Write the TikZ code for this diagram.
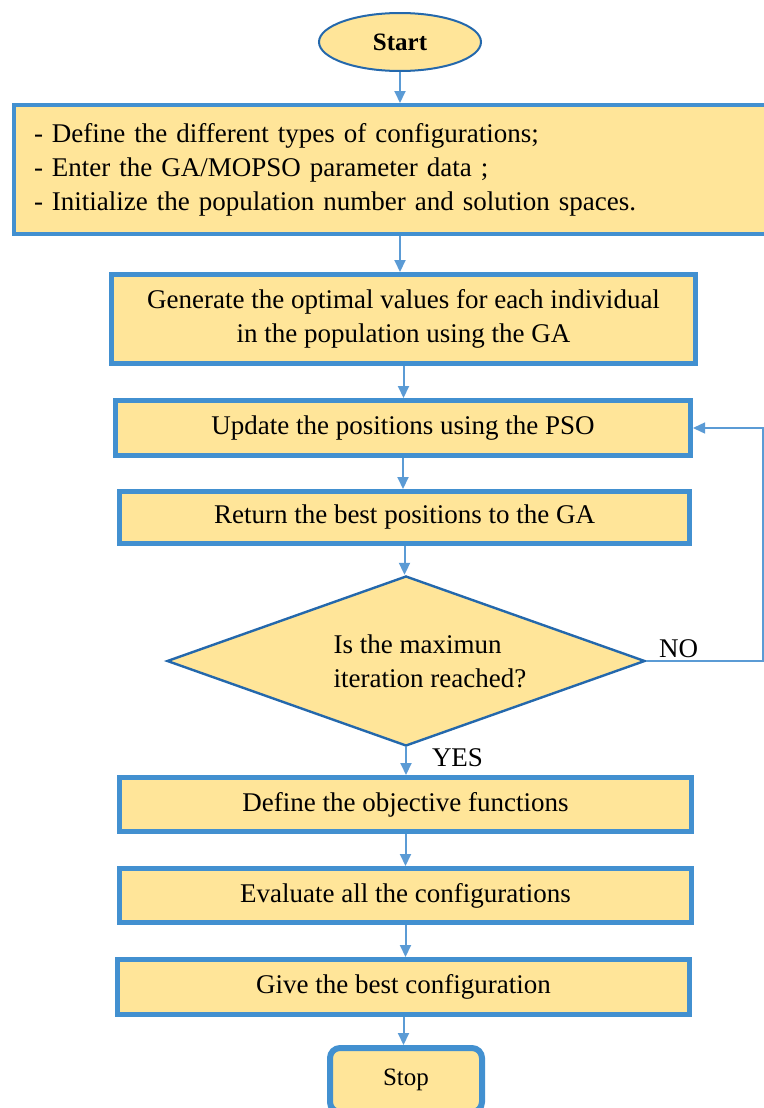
\documentclass[tikz,border=0pt]{standalone}
\usepackage{fontspec}
\setmainfont{Liberation Serif}
\usetikzlibrary{shapes.geometric,arrows.meta}

\definecolor{boxfill}{RGB}{255,229,153}
\definecolor{boxedge}{RGB}{66,144,208}
\definecolor{darkedge}{RGB}{36,104,172}
\definecolor{flowblue}{RGB}{91,155,213}

\begin{document}
\begin{tikzpicture}[x=0.5pt,y=-0.5pt,
  font=\fontsize{13.5}{17}\selectfont,
  procbox/.style={draw=boxedge, line width=2.5pt, fill=boxfill, inner sep=0pt,
    minimum width=286pt, minimum height=27pt, align=center},
  termnode/.style={draw=darkedge, line width=1pt, fill=boxfill, ellipse, inner sep=0pt,
    minimum width=81pt, minimum height=29pt, font=\fontsize{12.5}{14}\selectfont\bfseries},
  stopnode/.style={draw=boxedge, line width=3pt, fill=boxfill, rounded corners=5pt,
    inner sep=0pt, minimum width=76pt, minimum height=32pt, font=\fontsize{12.5}{14}\selectfont},
  decision/.style={draw=darkedge, line width=1.2pt, fill=boxfill, diamond, inner sep=0pt,
    minimum width=239pt, minimum height=85pt},
  flow/.style={draw=flowblue, line width=1pt, -{Triangle[length=6pt,width=5.5pt]}},
  loopline/.style={draw=flowblue, line width=0.7pt, -{Triangle[length=6pt,width=5.5pt]}}]
\useasboundingbox (0,0) rectangle (764,1108);

% nodes
\node[termnode] (start) at (400,42) {Start};
\node[procbox, line width=2pt, minimum width=379pt, minimum height=64.5pt,
  text width=359pt, align=left] (init) at (393,169.5)
  {- Define the different types of configurations;\\
   - Enter the GA/MOPSO parameter data ;\\
   - Initialize the population number and solution spaces.};
\node[procbox, minimum width=292pt, minimum height=44.5pt] (gen) at (403.5,319)
  {Generate the optimal values for each individual\\in the population using the GA};
\node[procbox, minimum width=287.5pt, minimum height=27.5pt] (upd) at (403,428)
  {Update the positions using the PSO};
\node[procbox, minimum width=285pt, minimum height=26pt] (ret) at (404.5,517.5)
  {Return the best positions to the GA};
\node[decision, label={[align=left,xshift=12pt]center:Is the maximun\\iteration reached?}]
  (dec) at (406,661) {};
\node[procbox] (obj) at (405.5,804.5) {Define the objective functions};
\node[procbox] (eval) at (405.5,895.5) {Evaluate all the configurations};
\node[procbox, minimum height=27.5pt] (best) at (403.5,987) {Give the best configuration};
\node[stopnode] (stop) at (406,1080) {Stop};

\node (no) at (678.5,649) {NO};
\node (yes) at (457.5,758) {YES};
\coordinate (back) at (763,661);

% connectors
\draw[flow] (start.south) -- (start.south |- init.north);
\draw[flow] (init.south -| start) -- (start |- gen.north);
\foreach \a/\b in {gen/upd, upd/ret, ret/dec, dec/obj, obj/eval, eval/best, best/stop}
  \draw[flow] (\a.south) -- (\a.south |- \b.north);
\draw[loopline] (dec.east) -- (back) |- (upd.east);
\end{tikzpicture}
\end{document}
